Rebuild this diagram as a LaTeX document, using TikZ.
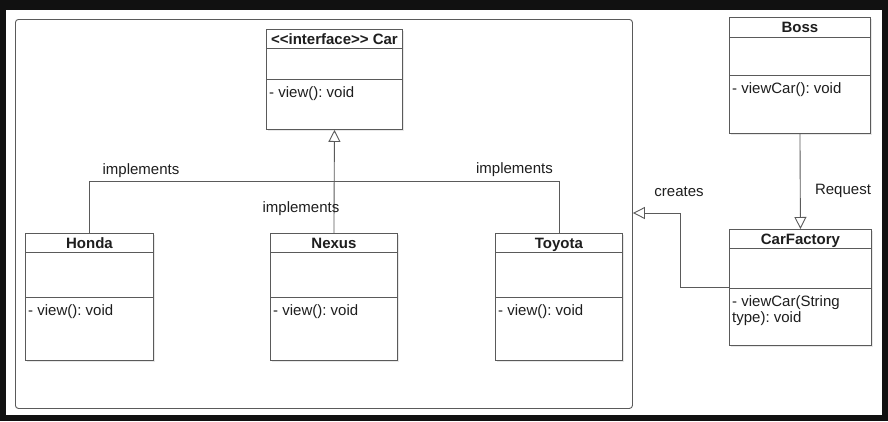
\documentclass[tikz,border=0pt]{standalone}
\usepackage{fontspec}
\setmainfont{Liberation Sans}
\frenchspacing
\usetikzlibrary{arrows.meta,calc,shadows}
\definecolor{bgdark}{HTML}{111111}
\definecolor{linec}{HTML}{5A5A5A}
\definecolor{txtc}{HTML}{1E1E1E}
\tikzset{
  classbox/.style={draw=linec, line width=0.9pt, fill=white, anchor=north west, inner sep=0pt,
     drop shadow={opacity=0.18, shadow xshift=1.5pt, shadow yshift=-1.5pt}},
  divider/.style={draw=linec, line width=0.9pt},
  titletxt/.style={anchor=base, inner sep=0pt, font=\fontsize{15}{17}\selectfont\bfseries, text=txtc},
  bodytxt/.style={anchor=base west, inner sep=0pt, font=\fontsize{15}{16}\selectfont, text=txtc},
  lbl/.style={inner sep=0pt, font=\fontsize{15}{17}\selectfont, text=txtc},
  conn/.style={draw=linec, line width=0.9pt},
  realize/.style={conn, -{Triangle[open, length=12pt, width=12pt, fill=white]}},
}
\newcommand\umlclass[9]{% name, x, y, w, h, div1, div2, title, body
  \node[classbox, minimum width=#4pt, minimum height=#5pt] (#1) at (#2,#3) {};
  \draw[divider] ($(#1.north west)+(0,#6)$) -- ($(#1.north east)+(0,#6)$);
  \draw[divider] ($(#1.north west)+(0,#7)$) -- ($(#1.north east)+(0,#7)$);
  \node[titletxt] (#1-title) at ($(#1.north)+(0,15.5)$) {#8};
  \node[bodytxt] (#1-body) at ($(#1.north west)+(3,#7)+(0,18)$) {#9};
}
\begin{document}
\begin{tikzpicture}[x=1pt,y=-1pt]
  \fill[bgdark] (0,0) rectangle (888,421);
  \fill[white] (6,10) rectangle (882,415);
  \useasboundingbox (0,0) rectangle (888,421);
  \node[draw=linec, line width=0.9pt, rounded corners=3pt, anchor=north west, inner sep=0pt,
        minimum width=617pt, minimum height=389pt] (container) at (15,19) {};

  \umlclass{car}{266}{29}{136}{100}{19.7}{50}{<{}<interface>{}> Car}{- view(): void}
  \umlclass{honda}{25}{233}{128}{127}{19}{64}{Honda}{- view(): void}
  \umlclass{nexus}{270}{233}{127}{127}{19}{64}{Nexus}{- view(): void}
  \umlclass{toyota}{495}{233}{127}{127}{19}{64}{Toyota}{- view(): void}
  \umlclass{boss}{729}{17}{141}{116}{20}{58}{Boss}{- viewCar(): void}
  \umlclass{carfactory}{729}{229}{142}{116}{19}{59}{CarFactory}{- viewCar(String}
  \node[bodytxt] (carfactory-body2) at ($(carfactory-body.base west)+(0,16)$) {type): void};

  \draw[conn] (honda.north) -- ++(0,-52) -| (toyota.north);
  \draw[realize] (nexus.north) -- (car.south);
  \draw[realize] (boss.south) -- (carfactory.north);
  \coordinate (cbend) at (680,213);
  \draw[realize] (carfactory.west) -| (cbend) -- (cbend -| container.east);

  \node[lbl] (l1) at (141,171) {implements};
  \node[lbl] (l2) at (301,209) {implements};
  \node[lbl] (l3) at (514.5,170) {implements};
  \node[lbl] (l4) at (679,192) {creates};
  \node[lbl] (l5) at (843,191) {Request};
\end{tikzpicture}
\end{document}
